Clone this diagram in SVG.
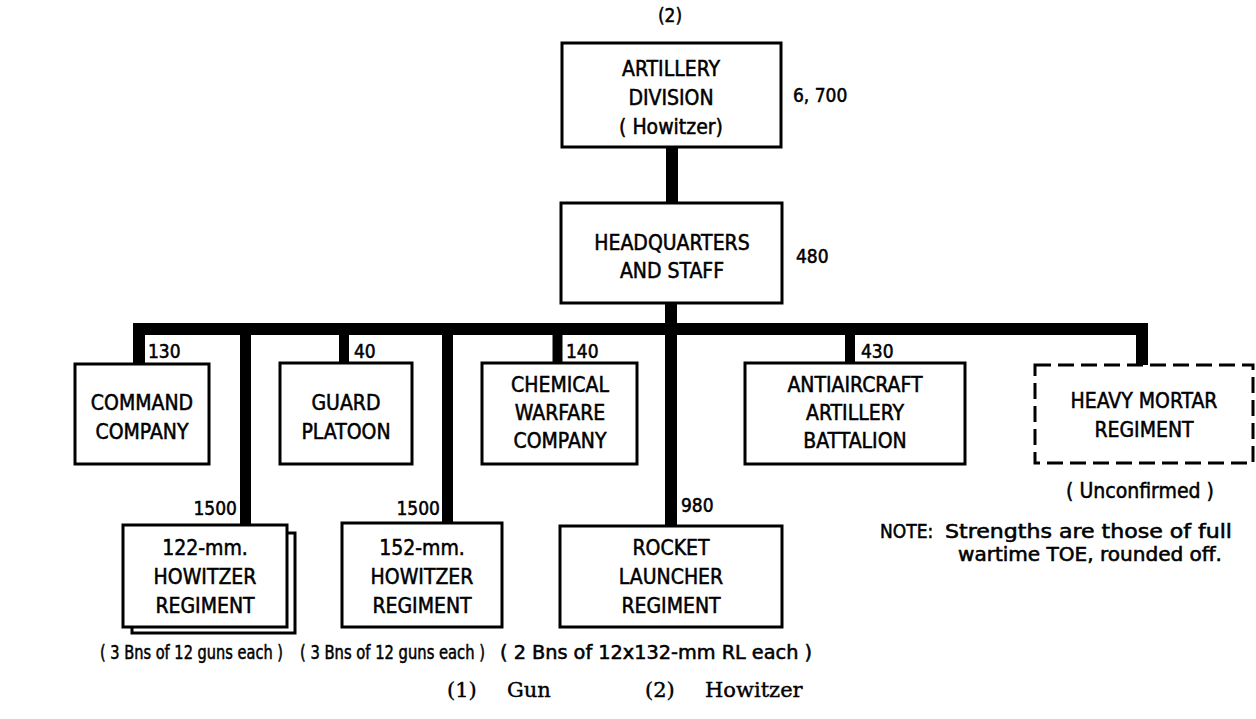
<svg xmlns="http://www.w3.org/2000/svg" width="1256" height="719" viewBox="0 0 1256 719">
<style>
.box{fill:#fff;stroke:#000;stroke-width:3}
.dash{fill:#fff;stroke:#000;stroke-width:3;stroke-dasharray:16 7}
.t{font-family:"DejaVu Sans Condensed","Liberation Sans",Arial,sans-serif;font-size:21px;fill:#000;stroke:#000;stroke-width:0.5;text-anchor:middle}
.n{font-family:"DejaVu Sans Condensed","Liberation Sans",Arial,sans-serif;font-size:19px;fill:#000;stroke:#000;stroke-width:0.5}
.s{font-family:"DejaVu Serif","Liberation Serif",serif;font-size:21px;fill:#000;stroke:#000;stroke-width:0.4}
.c{fill:none;stroke:#000;stroke-linejoin:miter}
</style>
<rect width="1256" height="719" fill="#fff"/>
<g id="connectors">
<path class="c" d="M672 147 V203" stroke-width="12"/>
<path class="c" d="M671 303 V526" stroke-width="12"/>
<path class="c" d="M139 364 V329 H1142 V365" stroke-width="12"/>
<path class="c" d="M245.5 329 V525" stroke-width="11"/>
<path class="c" d="M344 329 V363" stroke-width="10"/>
<path class="c" d="M447.5 329 V523" stroke-width="11"/>
<path class="c" d="M557.5 329 V363" stroke-width="10"/>
<path class="c" d="M850 329 V363" stroke-width="10"/>
</g>
<text class="n" x="670" y="22" text-anchor="middle" font-size="13" stroke-width="0.2">(2)</text>
<g id="artillery-division">
<rect class="box" x="562" y="43" width="219" height="104"/>
<text class="t" x="671" y="76">ARTILLERY</text>
<text class="t" x="671" y="105">DIVISION</text>
<text class="t" x="671" y="134">( Howitzer)</text>
<text class="n" x="793" y="102" font-size="20">6, 700</text>
</g>
<g id="headquarters">
<rect class="box" x="561" y="203" width="221" height="100"/>
<text class="t" x="672" y="250">HEADQUARTERS</text>
<text class="t" x="672" y="278">AND STAFF</text>
<text class="n" x="796" y="263" font-size="20">480</text>
</g>
<g id="command-company">
<rect class="box" x="75" y="364" width="134" height="100"/>
<text class="t" x="142" y="410">COMMAND</text>
<text class="t" x="142" y="439">COMPANY</text>
<text class="n" x="148" y="358">130</text>
</g>
<g id="guard-platoon">
<rect class="box" x="280" y="363" width="132" height="101"/>
<text class="t" x="346" y="410">GUARD</text>
<text class="t" x="346" y="439">PLATOON</text>
<text class="n" x="354" y="358">40</text>
</g>
<g id="chemical-warfare-company">
<rect class="box" x="482" y="363" width="155" height="101"/>
<text class="t" x="560" y="392">CHEMICAL</text>
<text class="t" x="560" y="420">WARFARE</text>
<text class="t" x="560" y="448">COMPANY</text>
<text class="n" x="566" y="358">140</text>
</g>
<g id="antiaircraft-battalion">
<rect class="box" x="745" y="363" width="220" height="101"/>
<text class="t" x="855" y="392">ANTIAIRCRAFT</text>
<text class="t" x="855" y="420">ARTILLERY</text>
<text class="t" x="855" y="448">BATTALION</text>
<text class="n" x="861" y="358">430</text>
</g>
<g id="heavy-mortar-regiment">
<rect class="dash" x="1035" y="365" width="218" height="98"/>
<text class="t" x="1144" y="408">HEAVY MORTAR</text>
<text class="t" x="1144" y="437">REGIMENT</text>
<text class="t" x="1140" y="498" font-size="20">( Unconfirmed )</text>
</g>
<g id="howitzer-122-regiment">
<rect class="box" x="132" y="533" width="163" height="100"/>
<rect class="box" x="123" y="525" width="164" height="102"/>
<text class="t" x="205" y="555">122-mm.</text>
<text class="t" x="205" y="584">HOWITZER</text>
<text class="t" x="205" y="613">REGIMENT</text>
<text class="n" x="237" y="515" text-anchor="end">1500</text>
<text class="n" x="100" y="659" font-size="20" textLength="183" lengthAdjust="spacingAndGlyphs">( 3 Bns of 12 guns each )</text>
</g>
<g id="howitzer-152-regiment">
<rect class="box" x="342" y="523" width="160" height="104"/>
<text class="t" x="422" y="555">152-mm.</text>
<text class="t" x="422" y="584">HOWITZER</text>
<text class="t" x="422" y="613">REGIMENT</text>
<text class="n" x="440" y="515" text-anchor="end">1500</text>
<text class="n" x="300" y="659" font-size="20" textLength="185" lengthAdjust="spacingAndGlyphs">( 3 Bns of 12 guns each )</text>
</g>
<g id="rocket-launcher-regiment">
<rect class="box" x="560" y="526" width="222" height="101"/>
<text class="t" x="671" y="555">ROCKET</text>
<text class="t" x="671" y="584">LAUNCHER</text>
<text class="t" x="671" y="613">REGIMENT</text>
<text class="n" x="681" y="512">980</text>
<text class="n" x="500" y="659" font-size="20" textLength="312" lengthAdjust="spacingAndGlyphs">( 2 Bns of 12x132-mm RL each )</text>
</g>
<g id="note">
<text class="n" x="880" y="538" font-size="20">NOTE:</text>
<text class="n" x="945" y="538" font-size="20" textLength="287" lengthAdjust="spacingAndGlyphs">Strengths are those of full</text>
<text class="n" x="958" y="561" font-size="20" textLength="264" lengthAdjust="spacingAndGlyphs">wartime TOE,  rounded off.</text>
</g>
<g id="legend">
<text class="s" x="447" y="697">(1)</text>
<text class="s" x="507" y="697">Gun</text>
<text class="s" x="645" y="697">(2)</text>
<text class="s" x="705" y="697">Howitzer</text>
</g>
</svg>
